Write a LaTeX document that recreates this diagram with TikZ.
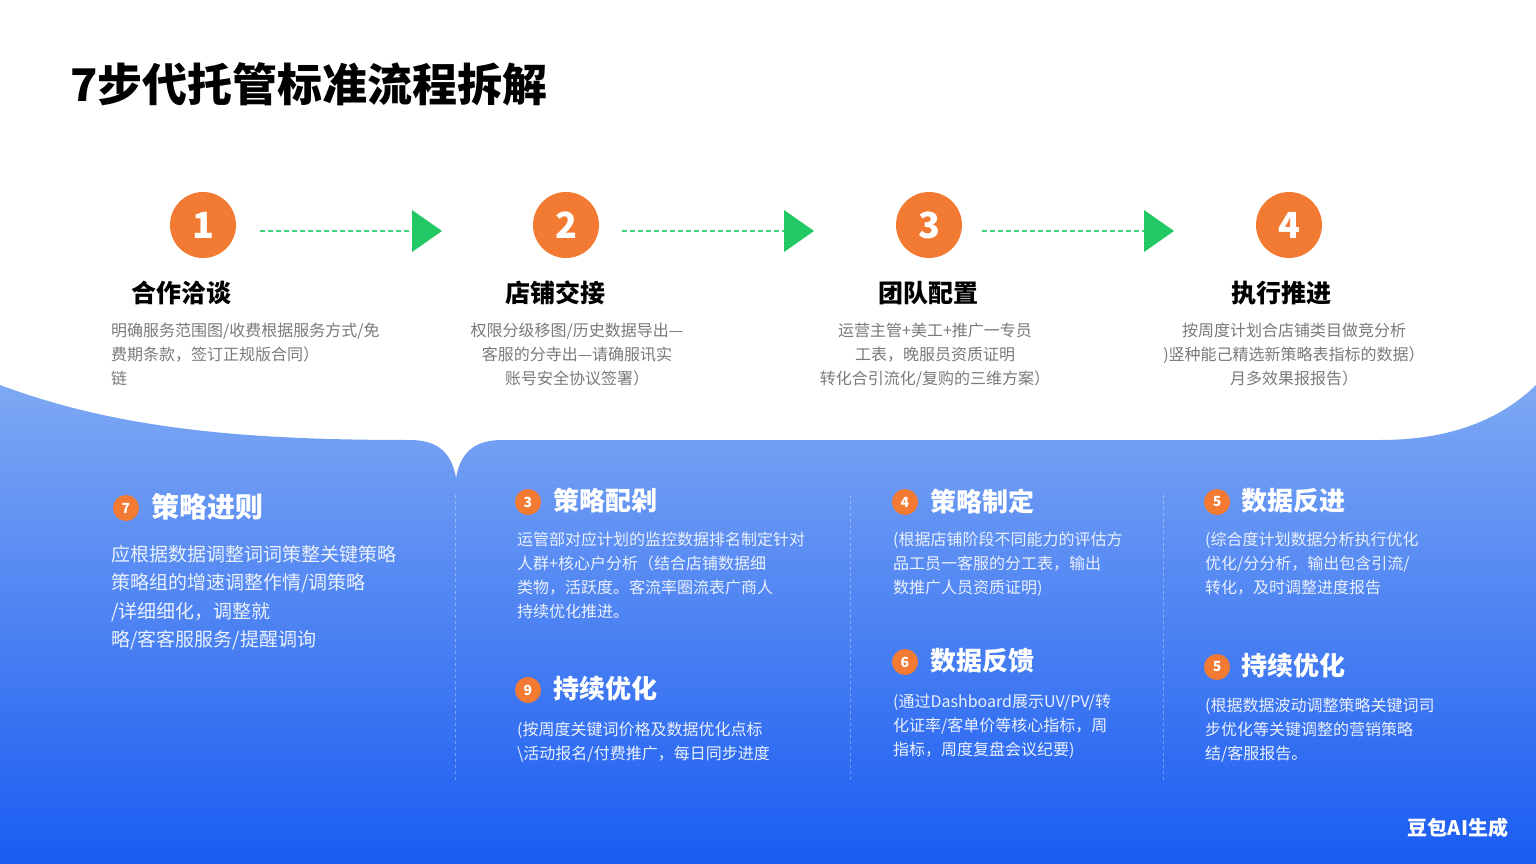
\documentclass[tikz,border=0pt]{standalone}
\usepackage{fontspec}
\setmainfont{Noto Sans CJK SC}
\usetikzlibrary{shapes.geometric}
\definecolor{orangec}{HTML}{F37A32}
\definecolor{greenc}{HTML}{22C864}
\definecolor{graytxt}{HTML}{7A7A7A}
\definecolor{bluetop}{HTML}{7EA8F3}
\definecolor{bluebot}{HTML}{1A5CF2}
\definecolor{lighttxt}{HTML}{EAF1FF}
\tikzset{
  numcircle/.style={circle,fill=orangec,minimum size=66pt,inner sep=0pt,text=white,font=\fontsize{36}{36}\selectfont\bfseries},
  badge/.style={circle,fill=orangec,minimum size=26pt,inner sep=0pt,text=white,font=\fontsize{14}{14}\selectfont\bfseries},
  tophead/.style={inner sep=0pt,text=black,font=\fontsize{25}{25}\selectfont\bfseries},
  topdesc/.style={inner sep=0pt,text=graytxt,font=\fontsize{16}{24}\selectfont},
  bothead/.style={inner sep=0pt,anchor=west,text=white,font=\fontsize{26}{26}\selectfont\bfseries},
  botdesc/.style={inner sep=0pt,anchor=north west,align=left,text=lighttxt,font=\fontsize{16}{24}\selectfont},
  flowline/.style={greenc!85,dash pattern=on 5pt off 3pt,line width=1.4pt},
  headtri/.style={fill=greenc,draw=none},
  sepline/.style={white,opacity=0.35,dashed,line width=0.8pt}
}
\begin{document}
\begin{tikzpicture}[x=1pt,y=-1pt]
\useasboundingbox (0,0) rectangle (1536,864);
\fill[white] (0,0) rectangle (1536,864);
% blue wave
\shade[top color=bluetop,bottom color=bluebot]
  (0,385) .. controls (120,430) and (250,440) .. (410,440)
  .. controls (440,440) and (452,455) .. (456,478)
  .. controls (460,455) and (472,440) .. (502,440)
  -- (1380,440) .. controls (1450,440) and (1500,420) .. (1536,385)
  -- (1536,864) -- (0,864) -- cycle;
% separators
\draw[sepline] (455,495) -- (455,780);
\draw[sepline] (850,495) -- (850,780);
\draw[sepline] (1163,495) -- (1163,780);
% title
\node[inner sep=0pt,anchor=west,font=\fontsize{45}{45}\selectfont\bfseries] (title) at (70,84) {7步代托管标准流程拆解};
% circles
\node[numcircle] (c1) at (203,225) {1};
\node[numcircle] (c2) at (566,225) {2};
\node[numcircle] (c3) at (929,225) {3};
\node[numcircle] (c4) at (1289,225) {4};
% arrows
\coordinate (a1s) at (260,231); \coordinate (a1e) at (412,231);
\coordinate (a2s) at (622,231); \coordinate (a2e) at (784,231);
\coordinate (a3s) at (982,231); \coordinate (a3e) at (1144,231);
\draw[flowline] (a1s) -- (a1e);
\draw[flowline] (a2s) -- (a2e);
\draw[flowline] (a3s) -- (a3e);
\fill[headtri] (a1e) ++(0,-21) -- ++(30,21) -- ++(-30,21) -- cycle;
\fill[headtri] (a2e) ++(0,-21) -- ++(30,21) -- ++(-30,21) -- cycle;
\fill[headtri] (a3e) ++(0,-21) -- ++(30,21) -- ++(-30,21) -- cycle;
% top headings
\node[tophead] (h1) at (181,293) {合作洽谈};
\node[tophead] (h2) at (555,293) {店铺交接};
\node[tophead] (h3) at (928,293) {团队配置};
\node[tophead] (h4) at (1281,293) {执行推进};
% top descriptions
\node[topdesc,anchor=north west,align=left] (d1) at (111,323) {明确服务范围图/收费根据服务方式/免\\费期条款，签订正规版合同）\\链};
\node[topdesc,anchor=north,align=center] (d2) at (577,323) {权限分级移图/历史数据导出—\\客服的分寺出—请确服讯实\\账号安全协议签署）};
\node[topdesc,anchor=north,align=center] (d3) at (935,323) {运营主管+美工+推广一专员\\工表，晚服员资质证明\\转化合引流化/复购的三维方案）};
\node[topdesc,anchor=north,align=center] (d4) at (1294,323) {按周度计划合店铺类目做竞分析\\)竖种能己精选新策略表指标的数据）\\月多效果报报告）};
% bottom column 1
\node[badge] (b1) at (126,508) {7};
\node[bothead,font=\fontsize{28}{28}\selectfont\bfseries] (bh1) at (151,507) {策略进则};
\node[botdesc,font=\fontsize{19}{28.5}\selectfont] (bd1) at (111,545) {应根据数据调整词词策整关键策略\\策略组的增速调整作情/调策略\\/详细细化，调整就\\略/客客服服务/提醒调询};
% bottom column 2
\node[badge] (b2) at (528,502) {3};
\node[bothead] (bh2) at (553,501) {策略配剁};
\node[botdesc] (bd2) at (517,532) {运管部对应计划的监控数据排名制定针对\\人群+核心户分析（结合店铺数据细\\类物，活跃度。客流率圈流表广商人\\持续优化推进。};
\node[badge] (b3) at (528,690) {9};
\node[bothead] (bh3) at (553,689) {持续优化};
\node[botdesc] (bd3) at (517,722) {(按周度关键词价格及数据优化点标\\\textbackslash 活动报名/付费推广，每日同步进度};
% bottom column 3
\node[badge] (b4) at (905,502) {4};
\node[bothead] (bh4) at (930,501) {策略制定};
\node[botdesc] (bd4) at (893,532) {(根据店铺阶段不同能力的评估方\\品工员一客服的分工表，输出\\数推广人员资质证明)};
\node[badge] (b5) at (905,662) {6};
\node[bothead] (bh5) at (930,661) {数据反馈};
\node[botdesc] (bd5) at (893,694) {(通过Dashboard展示UV/PV/转\\化证率/客单价等核心指标，周\\指标，周度复盘会议纪要)};
% bottom column 4
\node[badge] (b6) at (1217,502) {5};
\node[bothead] (bh6) at (1241,501) {数据反进};
\node[botdesc] (bd6) at (1205,532) {(综合度计划数据分析执行优化\\优化/分分析，输出包含引流/\\转化，及时调整进度报告};
\node[badge] (b7) at (1217,667) {5};
\node[bothead] (bh7) at (1241,666) {持续优化};
\node[botdesc] (bd7) at (1205,698) {(根据数据波动调整策略关键词司\\步优化等关键调整的营销策略\\结/客服报告。};
% watermark
\node[inner sep=0pt,text=white,font=\fontsize{20}{20}\selectfont\bfseries] (wm) at (1458,828) {豆包AI生成};
\end{tikzpicture}
\end{document}
